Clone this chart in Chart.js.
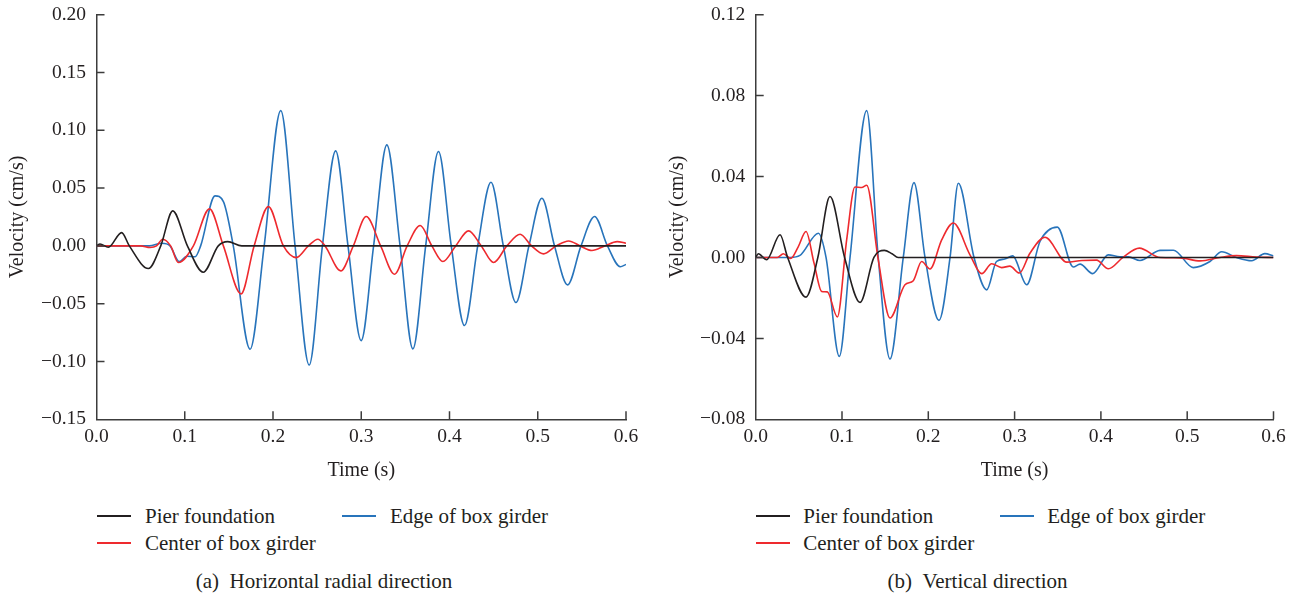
<!DOCTYPE html>
<html lang="en">
  <head>
    <meta charset="UTF-8" />
    <meta name="viewport" content="width=device-width, initial-scale=1.0" />
    <script src="https://cdn.jsdelivr.net/npm/chart.js@4.4.0/dist/chart.umd.min.js"></script>
    <title>Velocity response</title>
    <style>
      body {
        margin: 0;
        padding: 0;
        width: 1301px;
        height: 599px;
        position: relative;
        overflow: hidden;
        background: #fff;
        font-family: 'Liberation Serif', serif;
        color: #231f20;
      }
      .panel { position: absolute; top: 0; height: 490px; }
      #panelA { left: 0; width: 650px; }
      #panelB { left: 660px; width: 641px; }
      .item {
        position: absolute;
        height: 24px;
        line-height: 24px;
        font-size: 21px;
        white-space: nowrap;
      }
      .swatch { position: absolute; left: 0; top: 11px; width: 34px; height: 2px; }
      .label { position: absolute; top: 0; }
      .caption {
        position: absolute;
        font-size: 21px;
        line-height: 24px;
        white-space: nowrap;
        transform: translateX(-50%);
      }
    </style>
  </head>
  <body>
    <div class="panel" id="panelA"><canvas id="chartA"></canvas></div>
    <div class="panel" id="panelB"><canvas id="chartB"></canvas></div>
    <script>
      // series names / colours
      const seriesNames = ['Pier foundation', 'Center of box girder', 'Edge of box girder']
      const seriesColors = ['#231f20', '#ee2a2e', '#2874bb']

      // (a) horizontal radial direction
      const hPierT = [0, 0.004, 0.0134, 0.0285, 0.0372, 0.0588, 0.0728, 0.0864, 0.103, 0.121, 0.138, 0.1487, 0.1646, 0.6]
      const hPierV = [0, 0.0017, -0.0012, 0.0115, 0, -0.0196, 0, 0.0303, 0, -0.0228, 0, 0.0037, 0, 0]
      const hCenterT = [0, 0.05, 0.0607, 0.068, 0.075, 0.084, 0.0928, 0.1098, 0.128, 0.1438, 0.1638, 0.1786, 0.1948, 0.2118, 0.2264, 0.2401, 0.2508, 0.259, 0.2768, 0.291, 0.3056, 0.322, 0.3377, 0.352, 0.3668, 0.38, 0.3925, 0.407, 0.4216, 0.436, 0.45, 0.465, 0.48, 0.493, 0.5066, 0.521, 0.535, 0.548, 0.5614, 0.576, 0.59, 0.6]
      const hCenterV = [0, 0, -0.0014, 0, 0.0058, 0, -0.0144, 0, 0.032, 0, -0.0415, 0, 0.034, 0, -0.0101, 0, 0.0058, 0, -0.0216, 0, 0.0254, 0, -0.0245, 0, 0.0176, 0, -0.0135, 0, 0.013, 0, -0.0144, 0, 0.0101, 0, -0.0069, 0, 0.0043, 0, -0.004, 0, 0.0037, 0.0023]
      const hEdgeT = [0, 0.06, 0.0739, 0.0833, 0.0939, 0.1022, 0.1117, 0.118, 0.1343, 0.1438, 0.155, 0.174, 0.19, 0.2088, 0.225, 0.241, 0.256, 0.271, 0.285, 0.2999, 0.314, 0.329, 0.344, 0.3585, 0.373, 0.3875, 0.402, 0.417, 0.432, 0.447, 0.461, 0.4753, 0.49, 0.5047, 0.519, 0.5338, 0.549, 0.5644, 0.579, 0.5935, 0.6]
      const hEdgeV = [0, 0, 0.0023, 0, -0.0136, -0.009, -0.0094, 0, 0.0433, 0.0383, 0, -0.0894, 0, 0.117, 0, -0.103, 0, 0.0822, 0, -0.0819, 0, 0.0874, 0, -0.0891, 0, 0.0816, 0, -0.0689, 0, 0.0551, 0, -0.049, 0, 0.0412, 0, -0.0337, 0, 0.0254, 0, -0.018, -0.016]

      // (b) vertical direction
      const vPierT = [0, 0.003, 0.0127, 0.0282, 0.037, 0.0583, 0.072, 0.0861, 0.103, 0.1209, 0.137, 0.149, 0.158, 0.165, 0.6]
      const vPierV = [0, 0.0018, -0.0011, 0.0112, 0, -0.0196, 0, 0.0301, 0, -0.0222, 0, 0.0035, 0.0018, 0, 0]
      const vCenterT = [0, 0.025, 0.032, 0.0405, 0.0494, 0.0583, 0.0676, 0.0765, 0.083, 0.0946, 0.1054, 0.115, 0.1228, 0.1286, 0.142, 0.1556, 0.173, 0.1826, 0.1923, 0.202, 0.2155, 0.229, 0.2483, 0.2619, 0.2735, 0.285, 0.2945, 0.3055, 0.3178, 0.3352, 0.3604, 0.378, 0.395, 0.4086, 0.426, 0.4445, 0.4685, 0.4917, 0.515, 0.538, 0.557, 0.58, 0.6]
      const vCenterV = [0, 0, 0.0018, -0.0005, 0.0054, 0.0128, -0.0028, -0.0168, -0.017, -0.0294, 0.0087, 0.0348, 0.0346, 0.0357, -0.0011, -0.0299, -0.0135, -0.0115, -0.002, -0.0057, 0.0087, 0.017, 0.0013, -0.008, -0.0031, -0.005, -0.0043, -0.0077, 0.0021, 0.01, -0.0023, -0.0015, -0.0013, -0.0056, 0.0002, 0.0046, 0, -0.0002, -0.0017, 0, 0.0009, 0.0002, 0]
      const vEdgeT = [0, 0.04, 0.0513, 0.0726, 0.0815, 0.0969, 0.1093, 0.1286, 0.142, 0.1556, 0.171, 0.1834, 0.1962, 0.2124, 0.2252, 0.2348, 0.253, 0.2677, 0.279, 0.2885, 0.2978, 0.314, 0.3294, 0.3495, 0.368, 0.3758, 0.3905, 0.4086, 0.422, 0.432, 0.4453, 0.4685, 0.484, 0.507, 0.5264, 0.54, 0.557, 0.5747, 0.59, 0.6]
      const vEdgeV = [0, 0, 0.001, 0.012, 0, -0.0489, 0, 0.0726, 0, -0.0502, 0, 0.037, 0, -0.0311, 0, 0.0367, 0, -0.016, -0.002, -0.0008, 0.0008, -0.0135, 0.0079, 0.015, -0.0047, -0.0033, -0.008, 0.0013, 0.0003, 0.0003, -0.0015, 0.0035, 0.0036, -0.005, -0.002, 0.0028, 0, -0.0016, 0.0019, 0.0007]

      // axis ticks
      const timeTicks = { min: 0, max: 0.6, step: 0.1 }
      const hTicks = { min: -0.15, max: 0.2, step: 0.05 }
      const vTicks = { min: -0.08, max: 0.12, step: 0.04 }

      const axisColor = '#3c3c3c'
      const textColor = '#231f20'
      const font = 'Liberation Serif'

      const pairs = (ts, vs) => ts.map((t, i) => ({ x: t, y: vs[i] }))
      const fmtY = (v) => Math.abs(v) < 1e-9 ? '0.00' : (v < 0 ? '\u2212' : '') + Math.abs(v).toFixed(2)

      // tick marks point into the plot
      const inwardTicks = {
        id: 'inwardTicks',
        afterDatasetsDraw(chart) {
          const { ctx, chartArea: a, scales: { x, y } } = chart
          ctx.save()
          ctx.strokeStyle = axisColor
          ctx.lineWidth = 1.5
          ctx.beginPath()
          x.ticks.forEach((t) => {
            const px = x.getPixelForValue(t.value)
            if (px - a.left < 1) return
            ctx.moveTo(px, a.bottom)
            ctx.lineTo(px, a.bottom - 8)
          })
          y.ticks.forEach((t) => {
            const py = y.getPixelForValue(t.value)
            if (a.bottom - py < 1) return
            ctx.moveTo(a.left, py)
            ctx.lineTo(a.left + 8, py)
          })
          ctx.stroke()
          ctx.restore()
        },
      }

      const makeChart = (id, series, yTicks, yWidth, rightPad) => {
        const ctx = document.getElementById(id).getContext('2d')
        return new Chart(ctx, {
          type: 'line',
          data: {
            datasets: series.map((s, i) => ({
              label: seriesNames[i],
              data: pairs(s[0], s[1]),
              borderColor: seriesColors[i],
              borderWidth: 1.6,
              pointRadius: 0,
              fill: false,
              cubicInterpolationMode: 'monotone',
            })),
          },
          plugins: [inwardTicks],
          options: {
            responsive: true,
            maintainAspectRatio: false,
            animation: false,
            devicePixelRatio: 1,
            layout: { padding: { left: 0, top: 14.7, right: rightPad, bottom: 6.7 } },
            plugins: { legend: { display: false }, tooltip: { enabled: false } },
            scales: {
              x: {
                type: 'linear',
                min: timeTicks.min,
                max: timeTicks.max,
                afterFit: (s) => { s.height = 64 },
                grid: { display: false, drawTicks: false },
                border: { display: true, color: axisColor, width: 1.5 },
                ticks: {
                  stepSize: timeTicks.step,
                  autoSkip: false,
                  maxRotation: 0,
                  padding: 6,
                  color: textColor,
                  font: { family: font, size: 19.5 },
                  callback: (v) => v.toFixed(1),
                },
                title: {
                  display: true,
                  text: 'Time (s)',
                  color: textColor,
                  font: { family: font, size: 20 },
                  padding: { top: 0, bottom: 1 },
                },
              },
              y: {
                min: yTicks.min,
                max: yTicks.max,
                afterFit: (s) => {
                  s.width = yWidth
                  s.paddingTop = 0
                  s.paddingBottom = 0
                },
                grid: { display: false, drawTicks: false },
                border: { display: true, color: axisColor, width: 1.5 },
                ticks: {
                  stepSize: yTicks.step,
                  autoSkip: false,
                  padding: 10.5,
                  color: textColor,
                  font: { family: font, size: 19.5 },
                  callback: fmtY,
                },
                title: {
                  display: true,
                  text: 'Velocity (cm/s)',
                  color: textColor,
                  font: { family: font, size: 20 },
                  padding: { top: 5.3, bottom: 0 },
                },
              },
            },
          },
        })
      }

      const chartA = makeChart('chartA', [[hPierT, hPierV], [hCenterT, hCenterV], [hEdgeT, hEdgeV]], hTicks, 96.5, 24)
      const chartB = makeChart('chartB', [[vPierT, vPierV], [vCenterT, vCenterV], [vEdgeT, vEdgeV]], vTicks, 95.7, 27.5)

      // legends and captions below the plots
      const legendSlots = [
        [{ left: 96.7, top: 504, text: 48.3 }, { left: 96.7, top: 531, text: 48.3 }, { left: 341.7, top: 504, text: 48.3 }],
        [{ left: 756, top: 504, text: 47.3 }, { left: 756, top: 531, text: 47.3 }, { left: 1000, top: 504, text: 47.3 }],
      ]
      ;[chartA, chartB].forEach((chart, c) => {
        chart.data.datasets.forEach((ds, i) => {
          const slot = legendSlots[c][i]
          const item = document.createElement('div')
          item.className = 'item'
          item.style.left = slot.left + 'px'
          item.style.top = slot.top + 'px'
          const sw = document.createElement('div')
          sw.className = 'swatch'
          sw.style.backgroundColor = ds.borderColor
          const lb = document.createElement('div')
          lb.className = 'label'
          lb.style.left = slot.text + 'px'
          lb.textContent = ds.label
          item.appendChild(sw)
          item.appendChild(lb)
          document.body.appendChild(item)
        })
      })
      const captions = [
        { text: '(a)\u2002Horizontal radial direction', x: 324, y: 569 },
        { text: '(b)\u2002Vertical direction', x: 977.5, y: 569 },
      ]
      captions.forEach((c) => {
        const el = document.createElement('div')
        el.className = 'caption'
        el.textContent = c.text
        el.style.left = c.x + 'px'
        el.style.top = c.y + 'px'
        document.body.appendChild(el)
      })
    </script>
  </body>
</html>
